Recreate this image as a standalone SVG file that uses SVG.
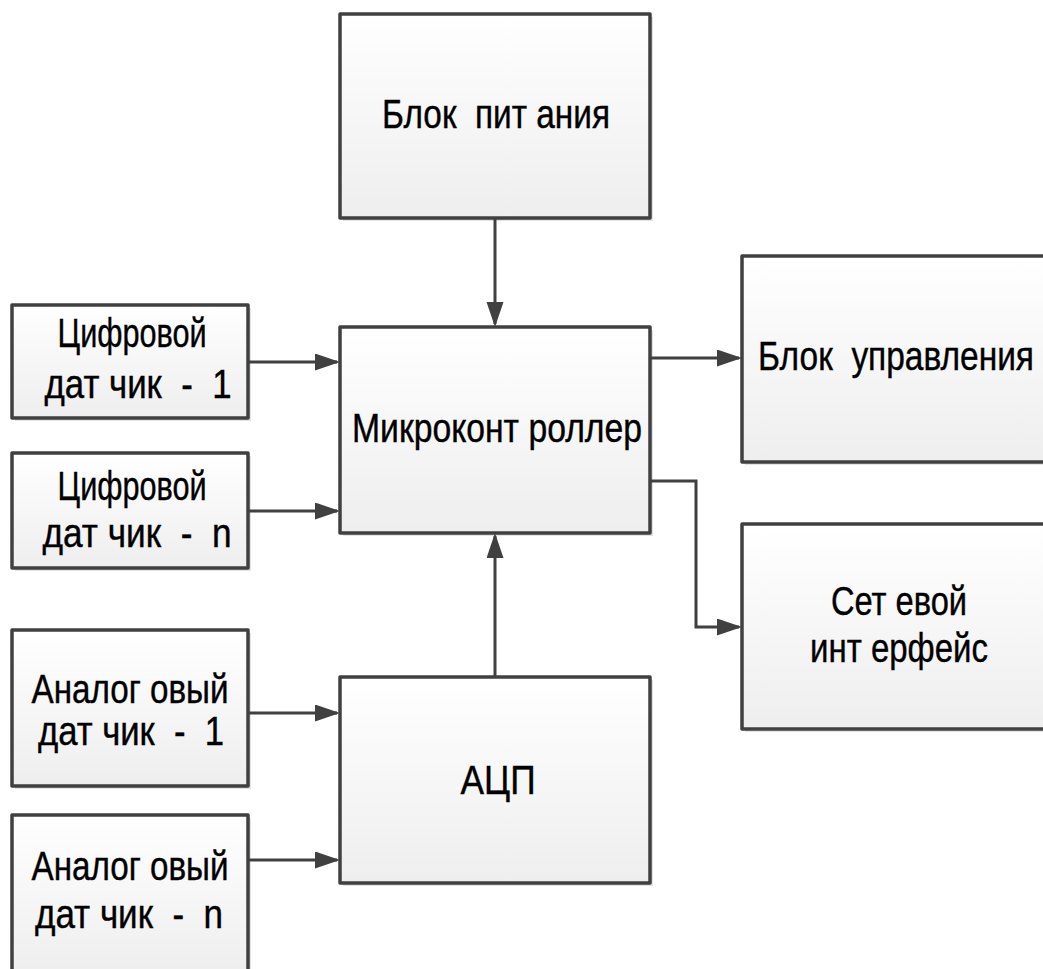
<svg xmlns="http://www.w3.org/2000/svg" width="1043" height="969" viewBox="0 0 1043 969">
<defs>
<linearGradient id="g" x1="0" y1="0" x2="0" y2="1">
<stop offset="0" stop-color="#ffffff"/>
<stop offset="1" stop-color="#eeeeee"/>
</linearGradient>
<marker id="arr" markerUnits="userSpaceOnUse" markerWidth="26" markerHeight="18" refX="22" refY="8.5" orient="auto">
<path d="M0,0 L25,8.5 L0,17 Z" fill="#404040"/>
</marker>
</defs>
<style>
.sh{fill:#e2e2e2;stroke:none}
.bx{fill:url(#g);stroke:#404040;stroke-width:3.5;stroke-linejoin:round}
.t{font-family:"Liberation Sans",Arial,sans-serif;font-size:40px;fill:#000;stroke:#000;stroke-width:0.4;text-anchor:middle;white-space:pre}
.c{fill:none;stroke:#404040;stroke-width:3;marker-end:url(#arr)}
</style>
<rect width="1043" height="969" fill="#ffffff"/>

<g id="power">
<rect class="sh" x="343" y="17" width="310" height="204"/>
<rect class="bx" x="340" y="14" width="310" height="204"/>
<text class="t" x="496" y="128" textLength="228" lengthAdjust="spacingAndGlyphs" xml:space="preserve">Блок  пит ания</text>
</g>

<g id="mcu">
<rect class="sh" x="343" y="330" width="310" height="206"/>
<rect class="bx" x="340" y="327" width="310" height="206"/>
<text class="t" x="497" y="442" textLength="290" lengthAdjust="spacingAndGlyphs" xml:space="preserve">Микроконт роллер</text>
</g>

<g id="control">
<rect class="sh" x="745" y="259" width="320" height="206"/>
<rect class="bx" x="742" y="256" width="320" height="206"/>
<text class="t" x="896" y="370" textLength="276" lengthAdjust="spacingAndGlyphs" xml:space="preserve">Блок  управления</text>
</g>

<g id="network">
<rect class="sh" x="745" y="527" width="320" height="205"/>
<rect class="bx" x="742" y="524" width="320" height="205"/>
<text class="t" x="899" y="615" textLength="136" lengthAdjust="spacingAndGlyphs" xml:space="preserve">Сет евой</text>
<text class="t" x="899" y="662" textLength="178" lengthAdjust="spacingAndGlyphs" xml:space="preserve">инт ерфейс</text>
</g>

<g id="digital1">
<rect class="sh" x="15" y="308" width="236" height="113"/>
<rect class="bx" x="12" y="305" width="236" height="113"/>
<text class="t" x="132" y="347" textLength="149" lengthAdjust="spacingAndGlyphs" xml:space="preserve">Цифровой</text>
<text class="t" x="138" y="398" textLength="187" lengthAdjust="spacingAndGlyphs" xml:space="preserve">дат чик  -  1</text>
</g>

<g id="digitaln">
<rect class="sh" x="15" y="456" width="236" height="115"/>
<rect class="bx" x="12" y="453" width="236" height="115"/>
<text class="t" x="132" y="500" textLength="149" lengthAdjust="spacingAndGlyphs" xml:space="preserve">Цифровой</text>
<text class="t" x="137" y="547" textLength="189" lengthAdjust="spacingAndGlyphs" xml:space="preserve">дат чик  -  n</text>
</g>

<g id="analog1">
<rect class="sh" x="15" y="633" width="236" height="156"/>
<rect class="bx" x="12" y="630" width="236" height="156"/>
<text class="t" x="130" y="703" textLength="197" lengthAdjust="spacingAndGlyphs" xml:space="preserve">Аналог овый</text>
<text class="t" x="131" y="745" textLength="186" lengthAdjust="spacingAndGlyphs" xml:space="preserve">дат чик  -  1</text>
</g>

<g id="analogn">
<rect class="sh" x="15" y="818" width="236" height="160"/>
<rect class="bx" x="12" y="815" width="236" height="160"/>
<text class="t" x="130" y="880" textLength="197" lengthAdjust="spacingAndGlyphs" xml:space="preserve">Аналог овый</text>
<text class="t" x="129" y="928" textLength="188" lengthAdjust="spacingAndGlyphs" xml:space="preserve">дат чик  -  n</text>
</g>

<g id="adc">
<rect class="sh" x="343" y="680" width="310" height="206"/>
<rect class="bx" x="340" y="677" width="310" height="206"/>
<text class="t" x="498" y="794" textLength="75" lengthAdjust="spacingAndGlyphs" xml:space="preserve">АЦП</text>
</g>

<g id="connectors">
<path class="c" d="M495,218 V324"/>
<path class="c" d="M248,362 H337"/>
<path class="c" d="M248,511 H337"/>
<path class="c" d="M495,677 V536"/>
<path class="c" d="M248,713 H337"/>
<path class="c" d="M248,860 H337"/>
<path class="c" d="M650,358 H739"/>
<path class="c" d="M650,481 H696 V627 H739"/>
</g>
</svg>
